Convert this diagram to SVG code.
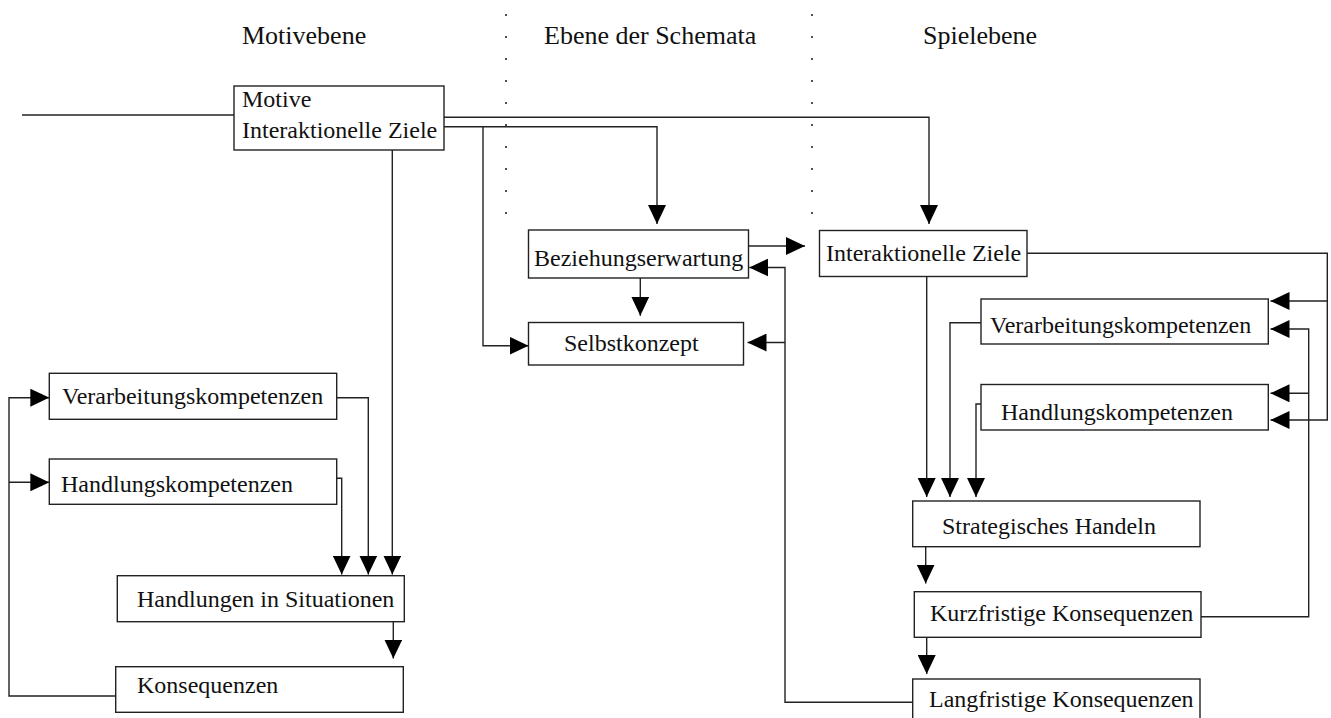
<svg xmlns="http://www.w3.org/2000/svg" width="1331" height="718" viewBox="0 0 1331 718">
<defs>
<style>
.box{fill:#fff;stroke:#222;stroke-width:1.4}
.t{font-family:"Liberation Serif","Times New Roman",serif;font-size:24px;fill:#111}
.h{font-family:"Liberation Serif","Times New Roman",serif;font-size:26px;fill:#111}
.c{fill:none;stroke:#222;stroke-width:1.4}
.a{marker-end:url(#ah)}
.dots{stroke:#222;stroke-width:1.6;stroke-dasharray:2 20}
</style>
<marker id="ah" markerUnits="userSpaceOnUse" markerWidth="19" markerHeight="18" refX="19" refY="9" orient="auto">
<path d="M0,0 L19,9 L0,18 Z" fill="#000"/>
</marker>
</defs>
<rect width="1331" height="718" fill="#fff"/>

<g id="headers">
<text class="h" x="242" y="44">Motivebene</text>
<text class="h" x="544" y="44">Ebene der Schemata</text>
<text class="h" x="923" y="44">Spielebene</text>
<line class="dots" x1="506" y1="14" x2="506" y2="216"/>
<line class="dots" x1="812" y1="14" x2="812" y2="216"/>
</g>

<g id="connectors">
<path class="c" d="M22,115 H234"/>
<path class="c a" d="M444,117.3 H929 V224"/>
<path class="c a" d="M444,126.7 H657 V224"/>
<path class="c a" d="M483,126.7 V345.7 H528.5"/>
<path class="c a" d="M392.3,150 V574.5"/>
<path class="c a" d="M748.5,246 H805"/>
<path class="c a" d="M912.7,702.3 H785 V267.5 H749.3"/>
<path class="c a" d="M785,342.5 H747.5"/>
<path class="c a" d="M640.3,278 V315.7"/>
<path class="c a" d="M1027,253.3 H1327.3 V420 H1270.5"/>
<path class="c a" d="M1327.3,301 H1270.5"/>
<path class="c a" d="M1201,616.7 H1308.7 V329 H1270.5"/>
<path class="c a" d="M1308.7,393.3 H1270.5"/>
<path class="c a" d="M926.7,276.5 V497"/>
<path class="c a" d="M981,322.7 H950 V497"/>
<path class="c a" d="M981,404 H976 V497"/>
<path class="c a" d="M925.7,546.7 V583.5"/>
<path class="c a" d="M926.7,637.3 V674"/>
<path class="c a" d="M336.7,397.7 H368.3 V574.5"/>
<path class="c a" d="M336.7,478.3 H341.7 V574.5"/>
<path class="c a" d="M393.3,621.7 V658.5"/>
<path class="c a" d="M115.7,696 H9 V397.7 H49.3"/>
<path class="c a" d="M9,482.3 H49.3"/>
</g>

<g id="motive">
<rect class="box" x="234" y="86" width="210" height="64"/>
<text class="t" x="242" y="107">Motive</text>
<text class="t" x="242" y="138">Interaktionelle Ziele</text>
</g>
<g id="beziehungserwartung">
<rect class="box" x="528.5" y="230" width="220" height="48"/>
<text class="t" x="534" y="266">Beziehungserwartung</text>
</g>
<g id="selbstkonzept">
<rect class="box" x="528.5" y="322.5" width="215" height="42.5"/>
<text class="t" x="564" y="351">Selbstkonzept</text>
</g>
<g id="interaktionelle-ziele">
<rect class="box" x="819.5" y="230.5" width="207.5" height="46"/>
<text class="t" x="826" y="261">Interaktionelle Ziele</text>
</g>
<g id="verarbeitung-rechts">
<rect class="box" x="981" y="299" width="287.3" height="45"/>
<text class="t" x="990" y="333">Verarbeitungskompetenzen</text>
</g>
<g id="handlung-rechts">
<rect class="box" x="981" y="384.5" width="287.3" height="45.5"/>
<text class="t" x="1001" y="420">Handlungskompetenzen</text>
</g>
<g id="strategisches-handeln">
<rect class="box" x="912.7" y="501" width="287.3" height="45.7"/>
<text class="t" x="942" y="534">Strategisches Handeln</text>
</g>
<g id="kurzfristige">
<rect class="box" x="914.3" y="591.7" width="286.7" height="45.6"/>
<text class="t" x="930" y="621">Kurzfristige Konsequenzen</text>
</g>
<g id="langfristige">
<rect class="box" x="912.7" y="679" width="287.3" height="60"/>
<text class="t" x="929" y="707">Langfristige Konsequenzen</text>
</g>
<g id="verarbeitung-links">
<rect class="box" x="49.3" y="373.3" width="287.4" height="46"/>
<text class="t" x="62" y="404">Verarbeitungskompetenzen</text>
</g>
<g id="handlung-links">
<rect class="box" x="49.3" y="459" width="287.4" height="45.3"/>
<text class="t" x="61" y="492">Handlungskompetenzen</text>
</g>
<g id="handlungen-situationen">
<rect class="box" x="117.3" y="575.7" width="287" height="46"/>
<text class="t" x="137" y="607">Handlungen in Situationen</text>
</g>
<g id="konsequenzen">
<rect class="box" x="115.7" y="666.7" width="287.6" height="45.6"/>
<text class="t" x="137" y="693">Konsequenzen</text>
</g>
</svg>
